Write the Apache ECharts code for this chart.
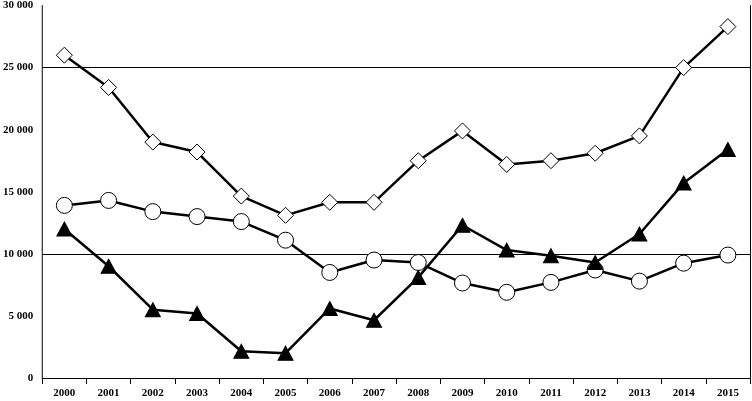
<!DOCTYPE html>
<html>
<head>
<meta charset="utf-8">
<script src="https://cdn.jsdelivr.net/npm/echarts@6/dist/echarts.min.js"></script>
<style>html,body{margin:0;padding:0;background:#fff}#c{width:752px;height:401px}</style>
</head>
<body>
<div id="c"></div>
<script>
var years = ['2000','2001','2002','2003','2004','2005','2006','2007','2008','2009','2010','2011','2012','2013','2014','2015'];
var diamondSeries = [26000,23400,19000,18200,14650,13100,14150,14150,17500,19900,17200,17500,18100,19500,25000,28300];
var circleSeries = [13900,14300,13400,13000,12600,11100,8500,9500,9300,7650,6900,7700,8700,7800,9250,9900];
var triangleSeries = [12000,9000,5500,5200,2150,2000,5600,4650,8100,12300,10300,9850,9300,11600,15700,18400];
var yMin = 0, yMax = 30000, yStep = 5000;

function fmt(v){ return String(v).replace(/\B(?=(\d{3})+(?!\d))/g, ' '); }
var font = '"Liberation Serif", "Times New Roman", serif';
var chart = echarts.init(document.getElementById('c'), null, {renderer:'canvas'});
var lineW = 2.5;
chart.setOption({
  animation:false,
  backgroundColor:'#fff',
  grid:{left:42,right:2,top:4,bottom:23,containLabel:false},
  xAxis:[{
    type:'category', data:years, boundaryGap:true,
    axisLine:{show:false},
    axisTick:{show:true, alignWithLabel:false, length:6, inside:false, lineStyle:{color:'#000',width:1}},
    axisLabel:{color:'#000', fontFamily:font, fontWeight:'bold', fontSize:11, margin:10, interval:0},
    splitLine:{show:false}
  },{
    type:'category', data:years, position:'top',
    axisLine:{show:true, lineStyle:{color:'#000',width:1}},
    axisTick:{show:false}, axisLabel:{show:false}, splitLine:{show:false}
  }],
  yAxis:[{
    type:'value', min:yMin, max:yMax, interval:yStep,
    axisLine:{show:true, lineStyle:{color:'#000',width:1}},
    axisTick:{show:false},
    axisLabel:{color:'#000', fontFamily:font, fontWeight:'bold', fontSize:11, margin:9, formatter:fmt},
    splitLine:{show:true, lineStyle:{color:['rgba(0,0,0,0)','rgba(0,0,0,0)','#000','rgba(0,0,0,0)','rgba(0,0,0,0)','#000','rgba(0,0,0,0)'], width:1}}
  },{
    type:'value', min:yMin, max:yMax, interval:yStep, position:'right',
    axisLine:{show:true, lineStyle:{color:'#000',width:1}},
    axisTick:{show:false}, axisLabel:{show:false}, splitLine:{show:false}
  }],
  series:[{
    type:'line', data:diamondSeries, symbol:'diamond', symbolSize:[16,16],
    lineStyle:{color:'#000', width:lineW},
    itemStyle:{color:'#fff', borderColor:'#000', borderWidth:1},
    z:3
  },{
    type:'line', data:circleSeries, symbol:'circle', symbolSize:16,
    lineStyle:{color:'#000', width:lineW},
    itemStyle:{color:'#fff', borderColor:'#000', borderWidth:1},
    z:3
  },{
    type:'line', data:triangleSeries, symbol:'triangle', symbolSize:[15,14],
    lineStyle:{color:'#000', width:lineW},
    itemStyle:{color:'#000', borderColor:'#000', borderWidth:1},
    z:4
  }]
});
</script>
</body>
</html>
